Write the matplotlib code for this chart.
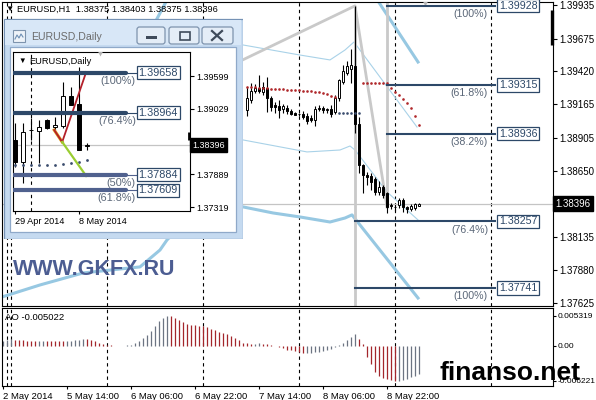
import numpy as np
import matplotlib
matplotlib.use("Agg")
import matplotlib.pyplot as plt
import matplotlib.transforms as mtransforms
from matplotlib.patches import Rectangle, FancyBboxPatch

plt.rcParams["font.family"] = ["Liberation Sans", "DejaVu Sans"]

W, H = 596, 400

# ---------------- EURUSD H1 (bar 0 = 2 May 2014 22:00) ----------------
bars = list(range(61, 105))
opens = [1.39121, 1.39199, 1.39268, 1.39292, 1.39262, 1.39290, 1.39214, 1.39160, 1.39150, 1.39125,
         1.39140, 1.39115, 1.39095, 1.39090, 1.39088, 1.39075, 1.39060, 1.39040, 1.39130, 1.39135,
         1.39120, 1.39130, 1.39105, 1.39215, 1.39340, 1.39410, 1.39440, 1.39462, 1.39010, 1.38695,
         1.38618, 1.38610, 1.38590, 1.38486, 1.38525, 1.38478, 1.38385, 1.38370, 1.38385, 1.38424,
         1.38370, 1.38350, 1.38360, 1.38375]
highs = [1.39300, 1.39330, 1.39320, 1.39390, 1.39340, 1.39380, 1.39230, 1.39180, 1.39200, 1.39170,
         1.39160, 1.39125, 1.39105, 1.39100, 1.39110, 1.39095, 1.39080, 1.39150, 1.39160, 1.39150,
         1.39140, 1.39160, 1.39240, 1.39360, 1.39470, 1.39500, 1.39590, 1.39928, 1.39067, 1.38700,
         1.38640, 1.38630, 1.38600, 1.38570, 1.38540, 1.38486, 1.38400, 1.38385, 1.38440, 1.38440,
         1.38380, 1.38390, 1.38400, 1.38403]
lows = [1.39075, 1.39175, 1.39250, 1.39255, 1.39240, 1.39106, 1.39110, 1.39100, 1.39060, 1.39100,
        1.39090, 1.39080, 1.39080, 1.39075, 1.39050, 1.39010, 1.39030, 1.39000, 1.39110, 1.39100,
        1.39100, 1.39070, 1.39090, 1.39190, 1.39320, 1.39390, 1.39330, 1.38940, 1.38633, 1.38478,
        1.38540, 1.38500, 1.38460, 1.38460, 1.38440, 1.38320, 1.38350, 1.38340, 1.38360, 1.38330,
        1.38320, 1.38335, 1.38345, 1.38375]
closes = [1.39214, 1.39268, 1.39292, 1.39270, 1.39300, 1.39214, 1.39145, 1.39145, 1.39120, 1.39150,
          1.39115, 1.39090, 1.39085, 1.39088, 1.39070, 1.39035, 1.39040, 1.39130, 1.39140, 1.39120,
          1.39125, 1.39090, 1.39215, 1.39350, 1.39420, 1.39460, 1.39470, 1.39010, 1.38695, 1.38618,
          1.38600, 1.38560, 1.38486, 1.38525, 1.38463, 1.38370, 1.38380, 1.38372, 1.38424, 1.38370,
          1.38354, 1.38377, 1.38390, 1.38396]

# Awesome Oscillator, bars 0..104, in units of 0.001
ao = [0.85, 1.00, 1.15, 1.10, 1.05, 1.00, 0.95, 0.90, 0.85, 0.88,
      0.95, 0.93, 0.92, 0.90, 0.87, 0.85, 0.90, 0.95, 1.00, 1.10,
      1.20, 1.15, 1.05, 0.85, 0.60, 0.35, 0.15, 0.10, 0.06, 0.04,
      0.06, 0.12, 0.25, 0.45, 0.90, 1.40, 2.00, 2.70, 3.55, 4.40,
      5.00, 5.319, 5.25, 5.00, 4.60, 4.20, 3.90, 3.75, 3.65, 3.58,
      3.50, 3.30, 3.00, 2.75, 2.55, 2.35, 2.10, 1.80, 1.40, 1.05,
      0.60, 0.45, 0.40, 0.42, 0.45, 0.40, 0.30, 0.20, 0.05, -0.20,
      -0.45, -0.65, -0.80, -0.95, -1.10, -1.30, -1.25, -1.20, -1.10, -1.00,
      -0.85, -0.70, -0.50, -0.20, 0.20, 0.60, 1.10, 1.60, 2.20, 1.30,
      0.30, -1.90, -3.20, -4.60, -5.40, -5.75, -5.95, -6.10, -6.221, -6.15,
      -6.00, -5.80, -5.55, -5.30, -5.022]

sep_bars = [1, 2, 26, 50, 74, 98, 122]
xtick_bars = [0, 16, 32, 48, 64, 80, 96]
xtick_labels = ["2 May 2014", "5 May 14:00", "6 May 06:00", "6 May 22:00",
                "7 May 14:00", "8 May 06:00", "8 May 22:00"]
price_ticks = [1.39935, 1.39675, 1.39420, 1.39165, 1.38905, 1.38650, 1.38135, 1.37880, 1.37625]
bid = 1.38396

# indicator lines (bar, price)
band_up_x = [60, 74.25, 81.75, 85.5, 87.75, 103.5]
band_up_y = [1.39625, 1.39547, 1.39509, 1.39586, 1.39648, 1.38989]
band_mid_x = [60, 76, 84.25, 86.75, 88, 96, 103.75]
band_mid_y = [1.38889, 1.38796, 1.38811, 1.38842, 1.38811, 1.38486, 1.38269]
env_low_x = [-0.25, 9.25, 20, 34.25, 39.25, 41, 49.25, 60, 67.5, 74.25, 81.75, 85.5, 87.25, 103.75]
env_low_y = [1.37672, 1.37765, 1.37858, 1.37905, 1.38036, 1.38114, 1.38370, 1.38370,
             1.38323, 1.38292, 1.38253, 1.38284, 1.38308, 1.37664]
env_up_x = [36.75, 41.25, 61.75, 81.75, 93.25, 103.75]
env_up_y = [1.39726, 1.39989, 1.40284, 1.40323, 1.39989, 1.39493]
zigzag_x = [56.75, 88, 96]
zigzag_y = [1.39462, 1.39928, 1.38370]

sar_a_x = list(range(61, 84))
sar_a_y = [1.39302, 1.39300, 1.39297, 1.39294, 1.39294, 1.39289, 1.39286, 1.39284, 1.39282, 1.39282,
           1.39279, 1.39276, 1.39276, 1.39274, 1.39271, 1.39269, 1.39266, 1.39263, 1.39258, 1.39253,
           1.39248, 1.39232, 1.39224]
sar_b_x = list(range(90, 97))
sar_b_y = [1.39331] * 7
sar_c_x = list(range(97, 105))
sar_c_y = [1.39292, 1.39261, 1.39237, 1.39207, 1.39176, 1.39137, 1.39075, 1.39005]
navy_x = list(range(84, 90))
navy_y = [1.39098] * 6

fib_hi_levels = [1.39928, 1.39315, 1.38936]
fib_hi_pcts = ["(100%)", "(61.8%)", "(38.2%)"]
fib_lo_levels = [1.38257, 1.37741]
fib_lo_pcts = ["(76.4%)", "(100%)"]
fib_hi_start, fib_lo_start, fib_end = 96, 88, 123
edge_mark = (1.39625, 1.39896)

# ---------------- EURUSD Daily (inset) ----------------
d_open = [1.38485, 1.38103, 1.38660, 1.38642, 1.38833, 1.38712, 1.38729, 1.39251, 1.39112, 1.38375]
d_high = [1.38781, 1.38781, 1.38868, 1.38833, 1.38851, 1.38886, 1.39495, 1.39408, 1.39750, 1.38433]
d_low = [1.38016, 1.37737, 1.38485, 1.38085, 1.38677, 1.38659, 1.38694, 1.39094, 1.38311, 1.38311]
d_close = [1.38103, 1.38625, 1.38665, 1.38712, 1.38694, 1.38746, 1.39251, 1.39094, 1.38311, 1.38396]
d_dots = [1.38050, 1.38050, 1.38050, 1.38050, 1.38050, 1.38050, 1.38068, 1.38085, 1.38103, 1.38137]
d_fib_levels = [1.39658, 1.38964, 1.37884, 1.37609]
d_fib_pcts = ["(100%)", "(76.4%)", "(50%)", "(61.8%)"]
d_ticks = [1.39599, 1.39029, 1.37889, 1.37319]
d_red_x, d_red_y = [4.9, 5.9, 8.9], [1.38659, 1.38451, 1.39669]
d_green_x, d_green_y = [5.9, 8.9], [1.38451, 1.37859]
d_edge_mark = (1.38485, 1.38625)

NAVY = "#2d4868"
SLATE = "#50618e"
PCT = "#5b6778"
LBLUE = "#97c8e2"
GRAY = "#c9c9c9"
RED = "#b0282b"

fig = plt.figure(figsize=(W / 100, H / 100), dpi=100)
fig.patch.set_facecolor("white")


def px_axes(x0, y0, x1, y1, **kw):
    return fig.add_axes([x0 / W, 1 - y1 / H, (x1 - x0) / W, (y1 - y0) / H], **kw)


def px_text(x, y, s, **kw):
    return fig.text(x / W, 1 - y / H, s, **kw)


def candles(a, x, o, h, l, c, width):
    o, h, l, c = map(np.asarray, (o, h, l, c))
    a.vlines(x, l, h, color="black", lw=0.8, zorder=4)
    a.bar(x, np.abs(c - o), bottom=np.minimum(o, c), width=width,
          color=np.where(c >= o, "white", "black"), edgecolor="black", linewidth=0.7, zorder=5)


# ---------------- main H1 panel ----------------
ax = px_axes(2, 2, 553, 306)
ax.set_xlim(-0.25, 137.5)
ax.set_ylim(1.37602, 1.39958)
ax.set_xticks([])
ax.yaxis.tick_right()
ax.set_yticks(price_ticks)
ax.set_yticklabels([f"{p:.5f}" for p in price_ticks])
ax.tick_params(axis="y", length=3, width=0.8, pad=1.5, labelsize=7.0)

for b in sep_bars:
    ax.axvline(b, color="black", lw=0.8, ls=(0, (3, 3)), zorder=1)
ax.axhline(bid, color="#c4c4c4", lw=0.9, zorder=1)

ax.plot(env_low_x, env_low_y, color=LBLUE, lw=2.2, zorder=2)
ax.plot(env_up_x, env_up_y, color=LBLUE, lw=2.2, zorder=2)
ax.plot(band_up_x, band_up_y, color="#a9d2e8", lw=0.8, zorder=2)
ax.plot(band_mid_x, band_mid_y, color="#a9d2e8", lw=0.8, zorder=2)
ax.plot(zigzag_x, zigzag_y, color=GRAY, lw=2.0, zorder=2)
ax.vlines(fib_lo_start, ax.get_ylim()[0], fib_hi_levels[0], color=GRAY, lw=2.0, zorder=2)
ax.vlines(fib_hi_start, 1.38360, ax.get_ylim()[1], color=GRAY, lw=2.0, zorder=2)

candles(ax, bars, opens, highs, lows, closes, 0.62)

for xs, ys in [(sar_a_x, sar_a_y), (sar_b_x, sar_b_y), (sar_c_x, sar_c_y)]:
    ax.plot(xs, ys, ls="none", marker="o", ms=1.9, color=RED, mec="none", zorder=6)
ax.plot(navy_x, navy_y, ls="none", marker="o", ms=1.9, color="#3b4d6e", mec="none", zorder=6)

for levels, pcts, start in [(fib_hi_levels, fib_hi_pcts, fib_hi_start),
                            (fib_lo_levels, fib_lo_pcts, fib_lo_start)]:
    for lvl, pct in zip(levels, pcts):
        ax.plot([start, fib_end], [lvl, lvl], color=NAVY, lw=1.5, zorder=7)
        ax.text(fib_end + 1.0, lvl, f"{lvl:.5f}", fontsize=7.7, color=NAVY, va="center", ha="left",
                bbox=dict(boxstyle="square,pad=0.15", fc="white", ec=NAVY, lw=0.9), zorder=8)
        ax.annotate(pct, (fib_end - 1.75, lvl), xytext=(0, -6), textcoords="offset points",
                    fontsize=7.7, color=PCT, ha="right", va="center", zorder=8)

ax.plot([105.5], [ax.get_ylim()[1]], marker="v", ms=6, color="#b4b4b4", mec="none", zorder=3)
ax.vlines(137.2, edge_mark[0], edge_mark[1], color="black", lw=2.4, zorder=9, clip_on=False)

trans = mtransforms.blended_transform_factory(ax.transAxes, ax.transData)
ax.text(1.004, bid, f"{bid:.5f}", transform=trans, fontsize=7.0, color="white", va="center", ha="left",
        bbox=dict(boxstyle="square,pad=0.25", fc="black", ec="black"), zorder=10)

px_text(5, 9, "\u25bc", fontsize=6, va="center", ha="left", color="black")
px_text(17, 9, f"EURUSD,H1  {opens[-1]:.5f} {highs[-1]:.5f} {lows[-1]:.5f} {closes[-1]:.5f}",
        fontsize=6.7, va="center", ha="left", color="black")
px_text(13, 275, "WWW.GKFX.RU", fontsize=15.5, fontweight="bold", color="#4c5d92",
        va="baseline", ha="left", zorder=4)

# ---------------- AO panel ----------------
ax_ao = px_axes(2, 308, 553, 386)
ax_ao.set_xlim(-0.25, 137.5)
ax_ao.set_ylim(-0.00711, 0.006739)
ao_v = np.array(ao) * 1e-3
ao_x = np.arange(len(ao_v))
rising = np.r_[True, ao_v[1:] > ao_v[:-1]]
for b in sep_bars:
    ax_ao.axvline(b, color="black", lw=0.8, ls=(0, (3, 3)), zorder=1)
ax_ao.vlines(ao_x, 0, ao_v, colors=np.where(rising, "#6c7482", "#a3262b"), lw=0.9, zorder=2)
ax_ao.yaxis.tick_right()
ax_ao.set_yticks([ao_v.max(), 0, ao_v.min()])
ax_ao.set_yticklabels([f"{ao_v.max():.6f}", "0.00", f"{ao_v.min():.6f}"])
ax_ao.tick_params(axis="y", length=2, width=0.8, pad=1, labelsize=6.0)
ax_ao.set_xticks(xtick_bars)
ax_ao.set_xticklabels(xtick_labels, ha="left", fontsize=6.8)
ax_ao.tick_params(axis="x", length=2, width=0.8, pad=2)
px_text(5, 318, f"AO {ao_v[-1]:.6f}", fontsize=6.8, va="center", ha="left", color="black")

px_text(440, 380, "finanso.net", fontsize=19, fontweight="bold", color="black",
        va="baseline", ha="left", zorder=10)

# ---------------- inset window frame ----------------
axw = px_axes(3, 18, 243, 239, zorder=5)
axw.set_xlim(3, 243)
axw.set_ylim(239, 18)
axw.axis("off")
axw.add_patch(Rectangle((3.5, 18.5), 239, 220, fc="#c5daf0", ec="#7592b5", lw=0.9))
axw.add_patch(Rectangle((5, 20), 236, 25, fc="#d8e7f7", ec="none"))
axw.add_patch(Rectangle((10, 47), 226, 185, fc="white", ec="#8fa9c9", lw=0.9))
for bx, bw in [(137, 28), (169, 30), (202, 31)]:
    axw.add_patch(FancyBboxPatch((bx, 27), bw, 17, boxstyle="round,pad=0,rounding_size=2.5",
                                 fc="#e4edf7", ec="#7d93ad", lw=0.9))
axw.add_patch(Rectangle((146, 36), 11, 3, fc="#3f4b5b", ec="none"))
axw.add_patch(Rectangle((179.5, 31.5), 10, 8, fc="none", ec="#3f4b5b", lw=1.2))
axw.plot([212, 222], [31, 40], color="#3f4b5b", lw=1.6)
axw.plot([212, 222], [40, 31], color="#3f4b5b", lw=1.6)
axw.add_patch(Rectangle((13, 30), 12, 12, fc="#eef3f9", ec="#7d93ad", lw=0.8))
axw.plot([15, 17, 19, 21, 23], [39, 35, 38, 34, 37], color="#6d8fb5", lw=0.8)
axw.text(31, 37, "EURUSD,Daily", fontsize=7.6, color="#6b6b6b", va="center", ha="left")

# ---------------- inset daily chart ----------------
axi = px_axes(13, 52, 190, 211, zorder=6)
axi.set_xlim(-0.25, 21.875)
axi.set_ylim(1.37250, 1.40017)
axi.axvline(2, color="black", lw=0.8, ls=(0, (3, 3)), zorder=1)
axi.axhline(bid, color="#c4c4c4", lw=0.9, zorder=1)
d_x = np.arange(len(d_open))
candles(axi, d_x, d_open, d_high, d_low, d_close, 0.5)
axi.plot(d_x, d_dots, ls="none", marker="o", ms=2.0, color="#3b4d6e", mec="none", zorder=6)
axi.plot(d_red_x[:2], d_red_y[:2], color="#e0a020", lw=2.2, zorder=6)
axi.plot(d_red_x, d_red_y, color="#b3202a", lw=1.3, zorder=7)
axi.plot(d_green_x, d_green_y, color="#9acd32", lw=1.6, zorder=7)
for lvl, pct, col in zip(d_fib_levels, d_fib_pcts, [NAVY, NAVY, SLATE, SLATE]):
    axi.plot([-0.25, 13.875], [lvl, lvl], color=col, lw=3.0, solid_capstyle="round", zorder=8)
    axi.plot([13.875, 15.25], [lvl, lvl], color=col, lw=0.8, zorder=8)
    axi.text(15.45, lvl, f"{lvl:.5f}", fontsize=7.8, color=NAVY, va="center", ha="left",
             bbox=dict(boxstyle="square,pad=0.15", fc="white", ec=NAVY, lw=0.9), zorder=9)
    axi.annotate(pct, (15.1, lvl), xytext=(0, -5.8), textcoords="offset points",
                 fontsize=7.8, color=PCT, ha="right", va="center", zorder=9)
axi.plot([10.6], [axi.get_ylim()[1]], marker="v", ms=6, color="#b4b4b4", mec="none", zorder=3)
axi.vlines(21.8, d_edge_mark[0], d_edge_mark[1], color="black", lw=2.0, zorder=9, clip_on=False)
axi.yaxis.tick_right()
axi.set_yticks(d_ticks)
axi.set_yticklabels([f"{p:.5f}" for p in d_ticks])
axi.tick_params(axis="y", length=3, width=0.8, pad=1.5, labelsize=6.5)
axi.set_xticks([0, 8])
axi.set_xticklabels(["29 Apr 2014", "8 May 2014"], ha="left", fontsize=6.6)
axi.tick_params(axis="x", length=2, width=0.8, pad=2)
transi = mtransforms.blended_transform_factory(axi.transAxes, axi.transData)
axi.text(1.012, bid, f"{bid:.5f}", transform=transi, fontsize=6.5, color="white", va="center", ha="left",
         bbox=dict(boxstyle="square,pad=0.25", fc="black", ec="black"), zorder=10)
px_text(18, 61, "\u25bc", fontsize=5.5, va="center", ha="left", color="black", zorder=12)
px_text(29, 61, "EURUSD,Daily", fontsize=6.7, va="center", ha="left", color="black", zorder=12)

fig.savefig("out.png", dpi=100, facecolor="white")
